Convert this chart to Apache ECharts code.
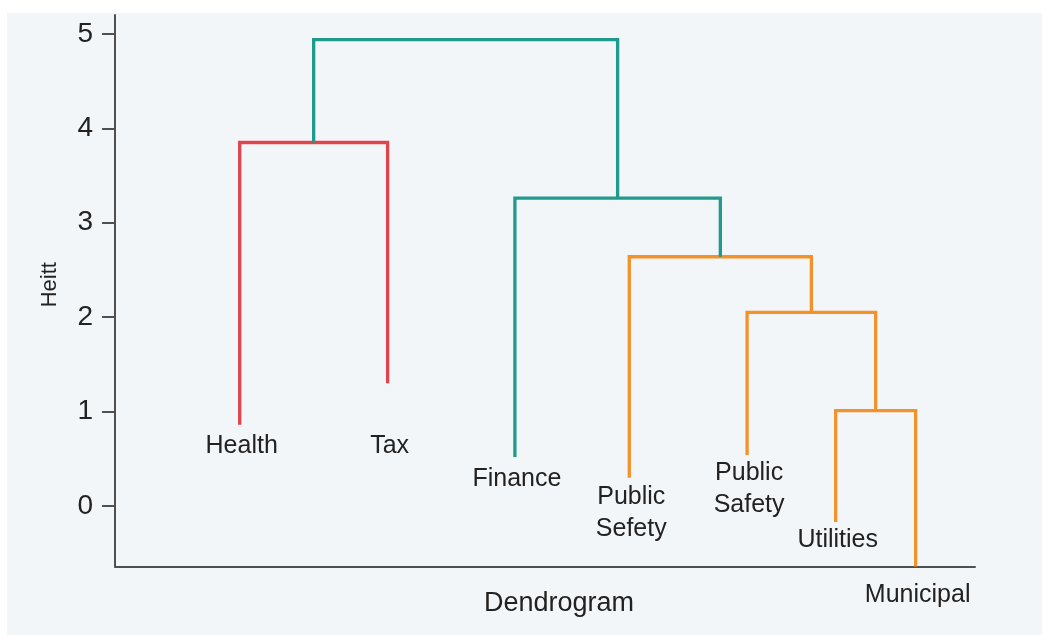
<!DOCTYPE html>
<html><head><meta charset="utf-8">
<script src="https://cdn.jsdelivr.net/npm/echarts@6/dist/echarts.min.js"></script>
<style>
html,body{margin:0;padding:0;background:#ffffff;}
#wrap{position:relative;width:1042px;height:635px;overflow:hidden;}
#panel{position:absolute;left:7px;top:13px;width:1035px;height:622px;background:#f3f6f9;}
#c{position:absolute;left:0;top:0;width:1042px;height:635px;}
</style>
</head><body>
<div id="wrap"><div id="panel"></div><div id="c"></div></div>
<script>
// ---- data ----
const leafNames = ['Health', 'Tax', 'Finance', 'Public\nSefety', 'Public\nSafety', 'Utilities', 'Municipal'];
const leafX = [1.45, 3.17, 4.65, 5.98, 7.35, 8.38, 9.31];          // leaf order positions
const leafBottom = [0.86, 1.30, 0.52, 0.30, 0.54, -0.17, -0.64];    // height where each leaf branch ends
const labelY = [0.636, 0.636, 0.286, -0.074, 0.18, -0.36, -0.943];  // label height (axis units)
// merges: child index < 7 is a leaf, >= 7 is merge (index - 7)
const mergeA = [5, 4, 3, 2, 0, 11];
const mergeB = [6, 7, 8, 9, 1, 10];
const mergeHeight = [1.01, 2.05, 2.64, 3.26, 3.85, 4.94];
const mergeCluster = ['C', 'C', 'C', 'B', 'A', 'B'];
const yTicks = [0, 1, 2, 3, 4, 5];
const xName = 'Dendrogram';
const yName = 'Heitt';

// ---- styles ----
const clusterColor = { A: '#e0434b', B: '#1f9a8c', C: '#f39228' };
const FONT = '"Liberation Sans", Arial, Helvetica, sans-serif';
const TEXT = '#222222';

const nodeX = leafX.slice();
const nodeY = leafBottom.slice();
const series = [];
for (let i = 0; i < mergeA.length; i++) {
  const a = mergeA[i], b = mergeB[i], h = mergeHeight[i];
  series.push({
    type: 'line',
    data: [[nodeX[a], nodeY[a]], [nodeX[a], h], [nodeX[b], h], [nodeX[b], nodeY[b]]],
    symbol: 'none',
    silent: true,
    clip: false,
    lineStyle: { color: clusterColor[mergeCluster[i]], width: 3.3, cap: 'butt', join: 'miter' },
    z: 3
  });
  nodeX.push((nodeX[a] + nodeX[b]) / 2);
  nodeY.push(h);
}
series.push({
  type: 'scatter',
  symbolSize: 0,
  silent: true,
  clip: false,
  itemStyle: { opacity: 1 },
  data: leafNames.map((n, i) => ({ value: [leafX[i], labelY[i]], name: n })),
  label: {
    show: true,
    position: 'inside',
    offset: [2, 0],
    formatter: p => p.name,
    color: TEXT,
    opacity: 1,
    fontFamily: FONT,
    fontSize: 25,
    lineHeight: 32,
    align: 'center',
    verticalAlign: 'middle'
  }
});

const chart = echarts.init(document.getElementById('c'), null, { renderer: 'canvas' });
chart.setOption({
  animation: false,
  backgroundColor: 'transparent',
  grid: { left: 115, right: 67, top: 15, bottom: 68.5, containLabel: false },
  xAxis: {
    type: 'value', min: 0, max: 10,
    name: xName, nameLocation: 'middle', nameGap: 24,
    nameTextStyle: { color: TEXT, fontFamily: FONT, fontSize: 27, padding: [0, 0, 0, 28] },
    axisLine: { show: true, onZero: false, lineStyle: { color: '#505050', width: 2 } },
    axisTick: { show: false }, axisLabel: { show: false }, splitLine: { show: false }
  },
  yAxis: {
    type: 'value', min: -0.64, max: 5.2,
    name: yName, nameLocation: 'middle', nameGap: 54,
    nameTextStyle: { color: TEXT, fontFamily: FONT, fontSize: 22, padding: [0, 0, 0, 12] },
    axisLine: { show: true, onZero: false, lineStyle: { color: '#505050', width: 2 } },
    axisTick: { show: true, length: 13, customValues: yTicks, lineStyle: { color: '#505050', width: 2 } },
    axisLabel: { show: true, customValues: yTicks, margin: 22, color: TEXT, fontFamily: FONT, fontSize: 28 },
    splitLine: { show: false }
  },
  series: series
});
</script>
</body></html>
